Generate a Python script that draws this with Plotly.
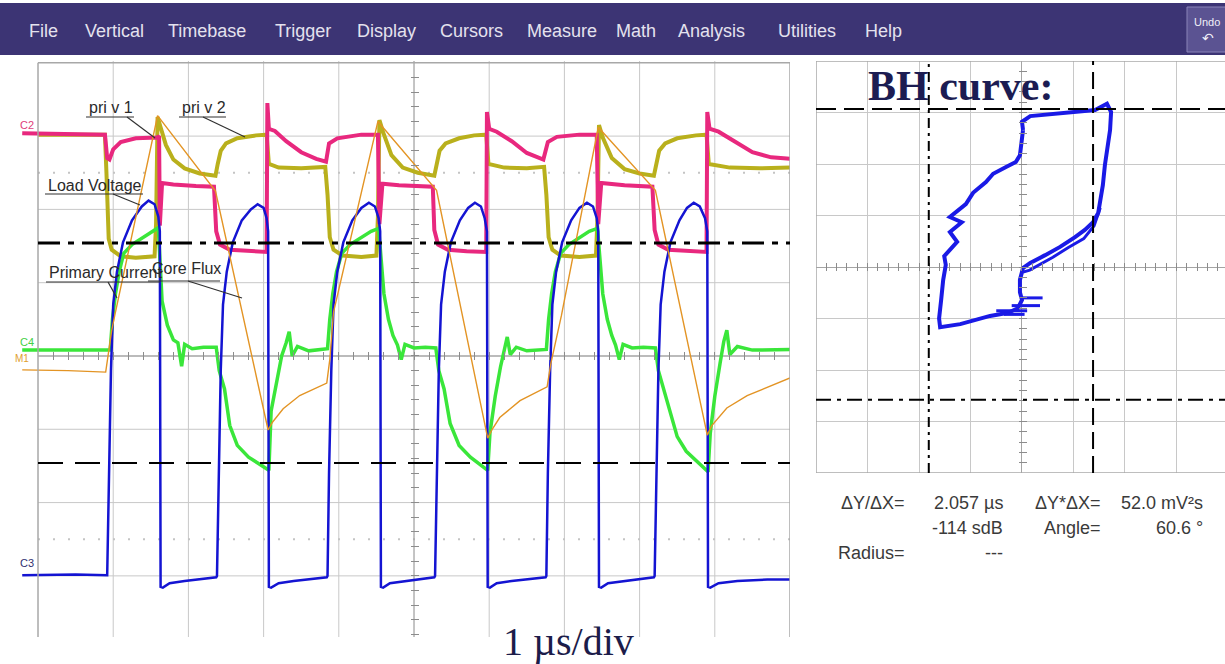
import numpy as np
import plotly.graph_objects as go

W, H = 1225, 664

# C2 : pri v 1 (rose)
t_c2 = [-0.21, 0.89, 0.92, 0.95, 1.00, 1.10, 1.30, 1.58, 1.61, 1.62, 1.65, 1.80, 2.10, 2.34,
        2.37, 2.42, 2.55, 2.80, 3.04, 3.05, 3.07, 3.15, 3.30, 3.50, 3.70, 3.83, 3.87, 3.98,
        4.30, 4.52, 4.54, 4.58, 4.80, 5.25, 5.27, 5.32, 5.45, 5.70, 5.96, 5.97, 6.00, 6.10,
        6.30, 6.50, 6.72, 6.78, 6.90, 7.20, 7.43, 7.45, 7.49, 7.80, 8.17, 8.20, 8.25, 8.38,
        8.65, 8.89, 8.90, 8.93, 9.05, 9.25, 9.50, 9.75, 10.0]
v_c2 = [3.04, 3.02, 2.70, 2.68, 2.82, 2.92, 2.97, 2.98, 3.00, 1.78, 2.36, 2.34, 2.32, 2.31,
        1.70, 1.52, 1.45, 1.43, 1.42, 3.45, 3.10, 3.07, 2.93, 2.78, 2.69, 2.65, 2.90, 2.97,
        3.02, 3.02, 1.80, 2.35, 2.33, 2.31, 1.72, 1.52, 1.45, 1.43, 1.42, 3.33, 3.10, 3.06,
        2.93, 2.77, 2.68, 2.92, 2.99, 3.02, 3.02, 1.80, 2.36, 2.33, 2.31, 1.72, 1.52, 1.45,
        1.43, 1.42, 3.33, 3.10, 3.06, 2.93, 2.78, 2.71, 2.69]

# pri v 2 (olive)
t_pv2 = [0.00, 0.89, 0.91, 0.94, 0.98, 1.10, 1.30, 1.55, 1.57, 1.59, 1.63, 1.70, 1.80, 1.95,
         2.15, 2.36, 2.39, 2.43, 2.50, 2.65, 2.90, 3.04, 3.07, 3.20, 3.50, 3.82, 3.85, 3.88,
         3.93, 4.05, 4.30, 4.50, 4.52, 4.54, 4.59, 4.70, 4.85, 5.05, 5.27, 5.30, 5.34, 5.42,
         5.60, 5.80, 5.96, 5.99, 6.20, 6.50, 6.73, 6.76, 6.79, 6.84, 6.95, 7.20, 7.42, 7.44,
         7.46, 7.51, 7.63, 7.80, 8.00, 8.19, 8.22, 8.26, 8.34, 8.50, 8.75, 8.89, 8.92, 9.20,
         9.60, 10.0]
v_pv2 = [3.02, 3.02, 2.50, 1.60, 1.45, 1.36, 1.34, 1.36, 1.80, 3.26, 3.12, 2.88, 2.68, 2.56,
         2.49, 2.46, 2.62, 2.80, 2.90, 2.97, 3.01, 3.02, 2.62, 2.57, 2.56, 2.58, 2.20, 1.62,
         1.45, 1.37, 1.35, 1.37, 1.90, 3.22, 3.05, 2.74, 2.57, 2.50, 2.46, 2.62, 2.80, 2.90,
         2.97, 3.01, 3.02, 2.62, 2.57, 2.56, 2.58, 2.20, 1.62, 1.45, 1.37, 1.35, 1.37, 1.90,
         3.15, 2.98, 2.70, 2.55, 2.49, 2.46, 2.62, 2.80, 2.90, 2.97, 3.01, 3.02, 2.62, 2.57,
         2.56, 2.57]

# C4 : Primary Current (vert)
t_c4 = [-0.21, 0.50, 0.96, 0.99, 1.03, 1.08, 1.14, 1.25, 1.40, 1.52, 1.60, 1.62, 1.65, 1.72,
        1.80, 1.86, 1.91, 1.95, 2.05, 2.20, 2.37, 2.41, 2.48, 2.55, 2.65, 2.80, 2.95, 3.07,
        3.10, 3.17, 3.24, 3.30, 3.34, 3.38, 3.45, 3.60, 3.85,
        3.88, 3.92, 3.97, 4.04, 4.15, 4.30, 4.43, 4.53, 4.56, 4.60, 4.66, 4.72, 4.78, 4.83,
        4.88, 5.00, 5.15, 5.29, 5.33, 5.40, 5.48, 5.60, 5.75, 5.88, 5.98, 6.01, 6.08, 6.15,
        6.20, 6.24, 6.28, 6.36, 6.50, 6.76,
        6.79, 6.83, 6.88, 6.95, 7.06, 7.20, 7.33, 7.44, 7.47, 7.51, 7.57, 7.63, 7.68, 7.73,
        7.78, 7.90, 8.05, 8.21, 8.25, 8.32, 8.40, 8.50, 8.62, 8.76, 8.91, 8.94, 9.00, 9.07,
        9.12, 9.16, 9.20, 9.30, 9.50, 10.0]
v_c4 = [0.08, 0.08, 0.08, 0.50, 0.85, 1.15, 1.40, 1.52, 1.62, 1.70, 1.75, 1.35, 0.75, 0.42,
        0.22, 0.18, -0.14, 0.16, 0.10, 0.12, 0.12, -0.20, -0.45, -0.95, -1.22, -1.38, -1.48, -1.56,
        -0.75, -0.35, 0.00, 0.18, 0.33, 0.00, 0.13, 0.07, 0.10,
        0.50, 0.85, 1.15, 1.40, 1.52, 1.62, 1.70, 1.74, 1.40, 0.85, 0.50, 0.28, 0.15, -0.05,
        0.16, 0.11, 0.12, 0.11, -0.20, -0.45, -0.92, -1.22, -1.38, -1.48, -1.56, -1.05, -0.55, -0.15,
        0.10, 0.26, 0.02, 0.12, 0.07, 0.09,
        0.50, 0.85, 1.15, 1.40, 1.52, 1.62, 1.70, 1.74, 1.40, 0.85, 0.50, 0.28, 0.15, -0.05,
        0.16, 0.11, 0.12, 0.11, -0.20, -0.45, -0.75, -1.10, -1.30, -1.43, -1.58, -1.05, -0.55, -0.10,
        0.20, 0.35, 0.02, 0.13, 0.08, 0.09]

# C3 : Load Voltage (bleu)
t_c3 = [-0.21, 0.50, 0.92, 0.94, 0.97, 1.00, 1.05, 1.13, 1.25, 1.38, 1.47, 1.55, 1.60, 1.62,
        1.63, 1.66, 1.75, 1.95, 2.20, 2.37,
        2.38, 2.40, 2.43, 2.46, 2.51, 2.59, 2.71, 2.83, 2.92, 3.00, 3.04, 3.06,
        3.07, 3.10, 3.20, 3.40, 3.65, 3.84,
        3.85, 3.87, 3.90, 3.93, 3.98, 4.06, 4.18, 4.30, 4.40, 4.48, 4.53, 4.55,
        4.56, 4.59, 4.68, 4.90, 5.10, 5.27,
        5.28, 5.30, 5.33, 5.36, 5.41, 5.49, 5.61, 5.72, 5.81, 5.89, 5.94, 5.97,
        5.98, 6.01, 6.10, 6.30, 6.55, 6.75,
        6.76, 6.78, 6.81, 6.84, 6.89, 6.97, 7.09, 7.20, 7.30, 7.38, 7.43, 7.45,
        7.46, 7.49, 7.58, 7.80, 8.02, 8.19,
        8.20, 8.22, 8.25, 8.28, 8.33, 8.41, 8.53, 8.63, 8.72, 8.80, 8.87, 8.90,
        8.91, 8.94, 9.05, 9.30, 9.70, 10.0]
v_c3 = [-2.99, -2.98, -2.99, -1.60, -0.20, 0.70, 1.15, 1.55, 1.85, 2.04, 2.12, 2.07, 1.90, 1.70,
        -3.15, -3.16, -3.10, -3.07, -3.04, -3.02,
        -3.00, -1.60, -0.20, 0.70, 1.15, 1.55, 1.85, 2.00, 2.07, 2.02, 1.88, 1.70,
        -3.15, -3.16, -3.10, -3.07, -3.04, -3.02,
        -3.00, -1.60, -0.20, 0.70, 1.15, 1.55, 1.85, 2.02, 2.09, 2.04, 1.88, 1.70,
        -3.15, -3.16, -3.10, -3.07, -3.04, -3.02,
        -3.00, -1.60, -0.20, 0.70, 1.15, 1.55, 1.85, 2.02, 2.09, 2.04, 1.88, 1.70,
        -3.15, -3.16, -3.10, -3.07, -3.04, -3.02,
        -3.00, -1.60, -0.20, 0.70, 1.15, 1.55, 1.85, 2.02, 2.09, 2.04, 1.88, 1.70,
        -3.15, -3.16, -3.10, -3.07, -3.04, -3.02,
        -3.00, -1.60, -0.20, 0.70, 1.15, 1.55, 1.85, 2.02, 2.09, 2.04, 1.88, 1.70,
        -3.15, -3.16, -3.10, -3.07, -3.05, -3.05]

# M1 : Core Flux (orange)
t_m1 = [-0.21, 0.40, 0.90, 0.94, 0.98, 1.02, 1.59, 2.36, 3.06, 3.12, 3.26, 3.48, 3.70, 3.84,
        3.88, 3.93, 4.52, 5.30, 5.98, 6.04, 6.14, 6.41, 6.77, 6.82, 6.96, 7.45, 8.21, 8.90,
        8.96, 9.16, 9.43, 9.75, 10.0]
v_m1 = [-0.19, -0.20, -0.22, 0.05, 0.35, 0.55, 3.28, 2.25, -1.01, -0.90, -0.72, -0.54, -0.44, -0.37,
        -0.05, 0.60, 3.20, 2.26, -1.12, -1.00, -0.84, -0.61, -0.42, -0.10, 0.55, 3.12, 2.26, -1.08,
        -0.95, -0.71, -0.54, -0.40, -0.30]

# courbe BH (mode XY), en divisions
bh_x = [0.02, 0.00, 0.16, 0.54, 1.03, 1.42, 1.65, 1.73, 1.71, 1.65, 1.61, 1.57, 1.53, 1.48,
        1.38, 1.22, 1.03, 0.74, 0.45, 0.16, 0.02, -0.04, -0.04, 0.00, -0.08, -0.27, -0.62,
        -0.91, -1.20, -1.59, -1.61, -1.57, -1.53, -1.48, -1.51, -1.26, -1.40, -1.17, -1.40,
        -1.09, -0.95, -0.70, -0.56, -0.31, -0.12, -0.04, 0.00, 0.02]
bh_y = [2.66, 2.82, 2.93, 2.97, 3.01, 3.05, 3.17, 3.01, 2.66, 2.27, 1.98, 1.59, 1.30, 1.05,
        0.87, 0.72, 0.58, 0.39, 0.23, 0.08, -0.02, -0.25, -0.49, -0.64, -0.80, -0.89, -0.95,
        -1.03, -1.11, -1.17, -1.00, -0.64, -0.25, 0.04, 0.21, 0.49, 0.68, 0.87, 0.97,
        1.22, 1.44, 1.65, 1.81, 1.94, 2.04, 2.17, 2.47, 2.66]
bh2_x = [1.52, 1.40, 1.20, 0.90, 0.60, 0.15, 0.02]
bh2_y = [1.15, 0.80, 0.55, 0.38, 0.19, -0.06, -0.10]
# stries horizontales pres de l'origine
bhs_x = [0.0, 0.40, None, -0.20, 0.35, None, -0.50, 0.10, None, -0.35, 0.05]
bhs_y = [-0.60, -0.60, None, -0.75, -0.75, None, -0.85, -0.85, None, -0.92, -0.92]

# curseurs
cur_left = [1.54, -1.46]
cur_xy_x = [-1.81, 1.38]
cur_xy_y = [3.07, -2.58]

# textes de mesure
mesures = [("ΔY/ΔX=", 907, 503), ("2.057 µs", 1005, 503), ("ΔY*ΔX=", 1103, 503),
           ("52.0 mV²s", 1205, 503), ("-114 sdB", 1005, 528), ("Angle=", 1103, 528),
           ("60.6 °", 1205, 528), ("Radius=", 907, 553), ("---", 1005, 553)]
menu = [("File", 27), ("Vertical", 83), ("Timebase", 166), ("Trigger", 273), ("Display", 355),
        ("Cursors", 438), ("Measure", 525), ("Math", 614), ("Analysis", 676),
        ("Utilities", 776), ("Help", 863)]

PINK = '#e8287e'
OLIVE = '#b9b01c'
BLUE = '#1414d2'
GREEN = '#3ae63a'
ORANGE = '#e39424'
GRID = '#c8c8c8'


def px(x):
    return x / W


def py(y):
    return 1 - y / H


fig = go.Figure()
fig.add_trace(go.Scatter(x=t_pv2, y=v_pv2, mode='lines', line=dict(color=OLIVE, width=4)))
fig.add_trace(go.Scatter(x=t_c2, y=v_c2, mode='lines', line=dict(color=PINK, width=4)))
fig.add_trace(go.Scatter(x=t_c4, y=v_c4, mode='lines', line=dict(color=GREEN, width=3.5)))
fig.add_trace(go.Scatter(x=t_c3, y=v_c3, mode='lines', line=dict(color=BLUE, width=2.5)))
fig.add_trace(go.Scatter(x=t_m1, y=v_m1, mode='lines', line=dict(color=ORANGE, width=1.4)))

fig.add_trace(go.Scatter(x=bh_x, y=bh_y, mode='lines', line=dict(color='#1a1ae6', width=4),
                         xaxis='x2', yaxis='y2'))
fig.add_trace(go.Scatter(x=bh2_x, y=bh2_y, mode='lines', line=dict(color='#1a1ae6', width=3),
                         xaxis='x2', yaxis='y2'))
fig.add_trace(go.Scatter(x=bhs_x, y=bhs_y, mode='lines', line=dict(color='#1a1ae6', width=3),
                         xaxis='x2', yaxis='y2'))

shapes = []
YMIN, YMAX = -3.834, 4.0246
# grille ecran de gauche
for v in [-3, -2, -1, 1, 2, 3]:
    shapes.append(dict(type='line', xref='x', yref='y', x0=0, x1=10, y0=v, y1=v,
                       line=dict(color=GRID, width=1), layer='below'))
for t in [1, 2, 3, 4, 6, 7, 8, 9]:
    shapes.append(dict(type='line', xref='x', yref='y', x0=t, x1=t, y0=YMIN, y1=YMAX,
                       line=dict(color=GRID, width=1), layer='below'))
for v in [2.5, -2.5]:
    shapes.append(dict(type='line', xref='x', yref='y', x0=0, x1=10, y0=v, y1=v,
                       line=dict(color='#c4c4c4', width=2, dash='2px,13px'), layer='below'))
shapes.append(dict(type='line', xref='x', yref='y', x0=0, x1=10, y0=0, y1=0,
                   line=dict(color='#a4a4a4', width=1.3), layer='below'))
shapes.append(dict(type='line', xref='x', yref='y', x0=5, x1=5, y0=YMIN, y1=YMAX,
                   line=dict(color='#a4a4a4', width=1.3), layer='below'))
for t in [0, 10]:
    shapes.append(dict(type='line', xref='x', yref='y', x0=t, x1=t, y0=YMIN, y1=4,
                       line=dict(color='#a8a8a8', width=1.5)))
shapes.append(dict(type='line', xref='x', yref='y', x0=0, x1=10, y0=4, y1=4,
                   line=dict(color='#a8a8a8', width=1.5)))
# curseurs ecran de gauche
shapes.append(dict(type='line', xref='x', yref='y', x0=0, x1=10, y0=cur_left[0], y1=cur_left[0],
                   line=dict(color='black', width=3, dash='22px,8px,6px,8px')))
shapes.append(dict(type='line', xref='x', yref='y', x0=0, x1=10, y0=cur_left[1], y1=cur_left[1],
                   line=dict(color='black', width=2, dash='25px,12px')))
# cadre XY
shapes.append(dict(type='line', xref='x2', yref='y2', x0=-4, x1=-4, y0=-4, y1=4,
                   line=dict(color='#a8a8a8', width=1.5)))
for v in [-4, 4]:
    shapes.append(dict(type='line', xref='x2', yref='y2', x0=-4, x1=4, y0=v, y1=v,
                       line=dict(color='#a8a8a8', width=1.5)))
# curseurs XY
shapes.append(dict(type='line', xref='x2', yref='y2', x0=cur_xy_x[0], x1=cur_xy_x[0], y0=-4, y1=4,
                   line=dict(color='black', width=2, dash='10px,5px,3px,5px')))
shapes.append(dict(type='line', xref='x2', yref='y2', x0=cur_xy_x[1], x1=cur_xy_x[1], y0=-4, y1=4,
                   line=dict(color='black', width=2, dash='17px,7px')))
shapes.append(dict(type='line', xref='x2', yref='y2', x0=-4, x1=4, y0=cur_xy_y[0], y1=cur_xy_y[0],
                   line=dict(color='black', width=2, dash='20px,8px')))
shapes.append(dict(type='line', xref='x2', yref='y2', x0=-4, x1=4, y0=cur_xy_y[1], y1=cur_xy_y[1],
                   line=dict(color='black', width=2, dash='15px,6px,4px,6px')))

# barre de menu
shapes.append(dict(type='rect', xref='paper', yref='paper', x0=0, x1=1, y0=py(55), y1=py(3),
                   fillcolor='#3c3474', line=dict(width=0)))
shapes.append(dict(type='rect', xref='paper', yref='paper', x0=px(1187), x1=px(1234),
                   y0=py(52), y1=py(7), fillcolor='#5b5392', line=dict(color='#8a84b8', width=1)))

# soulignes et traits de rappel des etiquettes
traits = [((86, 117), (134, 117)), ((127, 117), (155, 138)),
          ((179, 117), (226, 117)), ((203, 117), (245, 137)),
          ((45, 194), (143, 194)), ((113, 194), (140, 205)),
          ((46, 282), (160, 282)), ((108, 282), (117, 298)),
          ((148, 281), (220, 281)), ((188, 281), (242, 298))]
for (a, b) in traits:
    shapes.append(dict(type='line', xref='paper', yref='paper', x0=px(a[0]), y0=py(a[1]),
                       x1=px(b[0]), y1=py(b[1]), line=dict(color='#303030', width=1.2)))

ann = []
for nom, x in menu:
    ann.append(dict(text=nom, x=px(x), y=py(31), xref='paper', yref='paper', xanchor='left',
                    yanchor='middle', showarrow=False,
                    font=dict(family='Liberation Sans', size=18, color='#e4e2ee')))
ann.append(dict(text='Undo', x=px(1192), y=py(22), xref='paper', yref='paper', xanchor='left',
                yanchor='middle', showarrow=False,
                font=dict(family='Liberation Sans', size=11, color='#f0f0f8')))
ann.append(dict(text='↶', x=px(1208), y=py(38), xref='paper', yref='paper', xanchor='center',
                yanchor='middle', showarrow=False,
                font=dict(family='DejaVu Sans', size=14, color='#f0f0f8')))

etiquettes = [("pri v 1", 87, 107), ("pri v 2", 180, 107), ("Load Voltage", 46, 185),
              ("Primary Current", 47, 272), ("Core Flux", 150, 269)]
for txt, x, y in etiquettes:
    ann.append(dict(text=txt, x=px(x), y=py(y), xref='paper', yref='paper', xanchor='left',
                    yanchor='middle', showarrow=False,
                    font=dict(family='Liberation Sans', size=16, color='#2a2a2a')))

canaux = [("C2", 18, 125, '#e0407a', 11), ("C4", 18, 342, '#44d044', 11),
          ("M1", 13, 359, '#e0a030', 10), ("C3", 18, 563, '#303070', 11)]
for txt, x, y, c, s in canaux:
    ann.append(dict(text=txt, x=px(x), y=py(y), xref='paper', yref='paper', xanchor='left',
                    yanchor='middle', showarrow=False,
                    font=dict(family='Liberation Sans', size=s, color=c)))

for txt, x, y in mesures:
    ann.append(dict(text=txt, x=px(x), y=py(y), xref='paper', yref='paper', xanchor='right',
                    yanchor='middle', showarrow=False,
                    font=dict(family='Liberation Sans', size=18, color='#3a3a3a')))

ann.append(dict(text='<b>BH curve:</b>', x=px(866), y=py(86), xref='paper', yref='paper',
                xanchor='left', yanchor='middle', showarrow=False,
                font=dict(family='Liberation Serif', size=42, color='#1c1c52')))
ann.append(dict(text='1 µs/div', x=px(568), y=py(641), xref='paper', yref='paper',
                xanchor='center', yanchor='middle', showarrow=False,
                font=dict(family='Liberation Serif', size=40, color='#1c1c4a')))

fig.update_layout(
    width=W, height=H, margin=dict(l=0, r=0, t=0, b=0),
    paper_bgcolor='white', plot_bgcolor='white', showlegend=False,
    xaxis=dict(domain=[px(15), px(790)], range=[-0.306, 10.0], anchor='free', position=py(360),
               tickvals=[round(0.2 * i, 1) for i in range(1, 50)], ticks='inside', ticklen=8,
               tickcolor='#8c8c8c', showticklabels=False, showgrid=False, zeroline=False,
               showline=False),
    yaxis=dict(domain=[py(637), py(61)], range=[YMIN, YMAX], anchor='free', position=px(410),
               tickvals=[round(0.2 * i, 1) for i in range(-19, 20)], ticks='inside', ticklen=8,
               tickcolor='#8c8c8c', showticklabels=False, showgrid=False, zeroline=False,
               showline=False),
    xaxis2=dict(domain=[px(816), 1.0], range=[-4, 3.942], anchor='free', position=py(271),
                tickvals=[-3, -2, -1, 0, 1, 2, 3], ticks='', showticklabels=False,
                showgrid=True, gridcolor=GRID, gridwidth=1, zeroline=True,
                zerolinecolor='#a4a4a4', zerolinewidth=1.3, showline=False,
                minor=dict(tickvals=[round(0.2 * i, 1) for i in range(-19, 20)], ticks='inside',
                           ticklen=8, tickcolor='#8c8c8c', showgrid=False)),
    yaxis2=dict(domain=[py(473), py(61)], range=[-4, 4], anchor='free', position=px(1018),
                tickvals=[-3, -2, -1, 0, 1, 2, 3], ticks='', showticklabels=False,
                showgrid=True, gridcolor=GRID, gridwidth=1, zeroline=True,
                zerolinecolor='#a4a4a4', zerolinewidth=1.3, showline=False,
                minor=dict(tickvals=[round(0.2 * i, 1) for i in range(-19, 20)], ticks='inside',
                           ticklen=8, tickcolor='#8c8c8c', showgrid=False)),
    shapes=shapes, annotations=ann,
)

# marge par defaut du <body> supprimee, barre d'outils masquee
fig.write_html("out.html", config={'displayModeBar': False},
               post_script="document.body.style.margin='0';")
